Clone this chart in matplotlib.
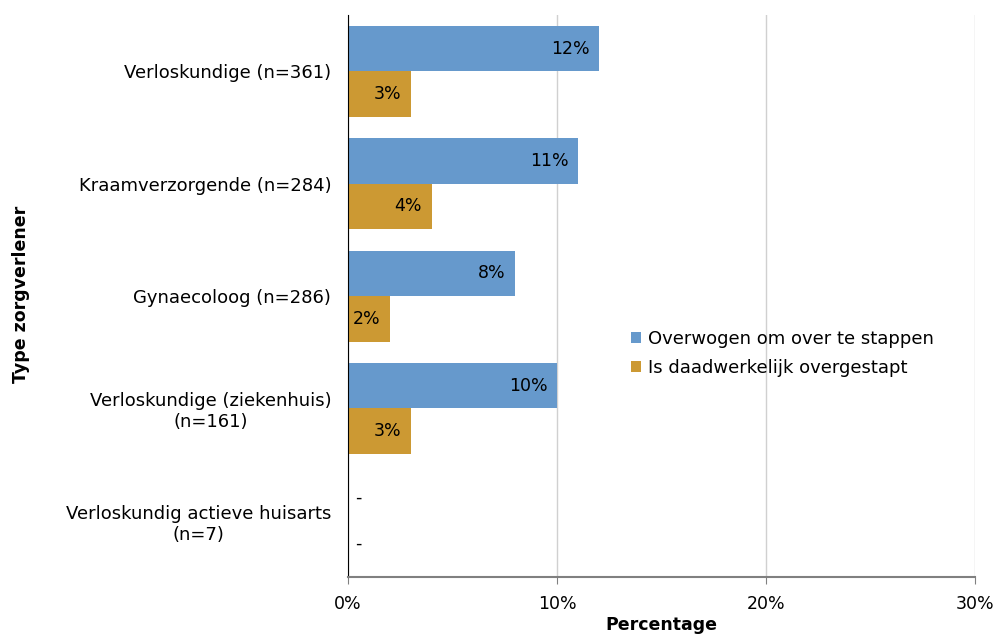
import numpy as np
import matplotlib.pyplot as plt

# data
categories = ['Verloskundige (n=361)', 'Kraamverzorgende (n=284)', 'Gynaecoloog (n=286)',
              'Verloskundige (ziekenhuis)\n(n=161)', 'Verloskundig actieve huisarts\n(n=7)']
overwogen = [12, 11, 8, 10, None]
overgestapt = [3, 4, 2, 3, None]
series_names = ['Overwogen om over te stappen', 'Is daadwerkelijk overgestapt']
colors = ['#6699CC', '#CC9933']

plt.rcParams['font.family'] = ['DejaVu Sans']
fig = plt.figure(figsize=(9.97, 6.34), dpi=100)
ax = fig.add_axes([0.349, 0.09, 0.629, 0.886])

y = np.arange(len(categories))
h = 0.405
for vals, off, col, name in [(overwogen, -h/2, colors[0], series_names[0]),
                             (overgestapt, h/2, colors[1], series_names[1])]:
    v = [0 if x is None else x for x in vals]
    ax.barh(y + off, v, height=h, color=col, label=name)
    for yi, x in zip(y + off, vals):
        if x is None:
            ax.text(0.35, yi, '-', va='center', ha='left', fontsize=12.5)
        else:
            ax.text(x - 0.45, yi, f'{x}%', va='center', ha='right', fontsize=12.5)

ax.set_ylim(len(categories) - 0.5, -0.5)
ax.set_xlim(0, 30)
ax.set_yticks(y)
ax.set_yticklabels(categories, fontsize=13, ha='right', multialignment='center')
ax.tick_params(axis='y', length=0, pad=12)
ax.set_xticks([0, 10, 20, 30])
ax.set_xticklabels(['0%', '10%', '20%', '30%'], fontsize=12.5)
ax.tick_params(axis='x', length=5, color='#808080', pad=8)
ax.xaxis.grid(True, color='#D0D0D0', linewidth=1)
ax.set_axisbelow(True)
for s in ['top', 'right']:
    ax.spines[s].set_visible(False)
ax.spines['left'].set_color('black')
ax.spines['bottom'].set_color('#808080')
ax.spines['bottom'].set_linewidth(1.5)

ax.set_xlabel('Percentage', fontsize=12.5, fontweight='bold', labelpad=2)
fig.text(0.021, 0.535, 'Type zorgverlener', rotation=90, fontsize=12.5, fontweight='bold',
         ha='center', va='center')

ax.legend(loc='center left', bbox_to_anchor=(0.425, 0.398), frameon=False, fontsize=13,
          handlelength=0.55, handleheight=0.55, handletextpad=0.4, labelspacing=0.6)

fig.savefig('out.png', dpi=100)
